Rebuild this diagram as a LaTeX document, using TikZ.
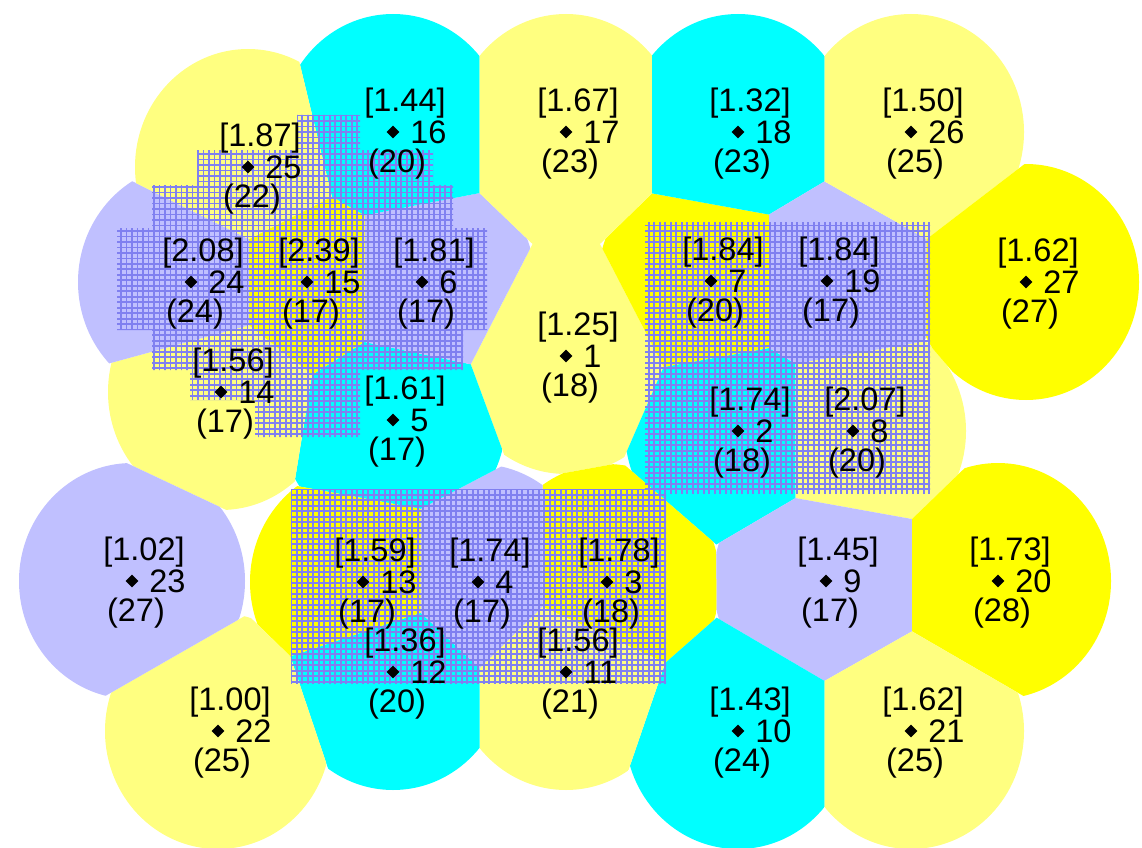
\documentclass[tikz,border=0pt]{standalone}
\usepackage{fontspec}
\setmainfont{Liberation Sans}
\usepackage{tikz}
\usetikzlibrary{calc,shapes.geometric}
\definecolor{paleyellow}{RGB}{255,255,128}
\definecolor{brightyellow}{RGB}{255,255,0}
\definecolor{aquacell}{RGB}{0,255,255}
\definecolor{lavendercell}{RGB}{192,192,255}
\definecolor{hatchblue}{RGB}{128,128,240}
\tikzset{
  sitedot/.style={diamond, fill=black, inner sep=0pt, minimum size=2.6mm},
  scorelabel/.style={inner sep=0pt, font=\fontsize{18.5}{20}\selectfont},
  idlabel/.style={inner sep=0pt, anchor=west, font=\fontsize{18.5}{20}\selectfont},
  countlabel/.style={inner sep=0pt, font=\fontsize{18.5}{20}\selectfont},
  hatchgrid/.style={draw=hatchblue, line width=0.38mm, step=1.1mm}
}

\begin{document}
\begin{tikzpicture}[x=0.02cm, y=-0.02cm]
  \useasboundingbox (0,0) rectangle (1142,848);
  \foreach \n/\px/\py in {1/566/356, 2/738/431, 3/607/582, 4/478/582, 5/393/420,
      6/422/282, 7/711/281, 8/853/431, 9/826/581, 10/738/731, 11/566/672,
      12/393/672, 13/363/582, 14/221/392, 15/307/282, 16/393/132, 17/566/132,
      18/738/132, 19/827/281, 20/998/581, 21/911/731, 22/218/731, 23/132/581,
      24/191/282, 25/248/167, 26/911/132, 27/1026/282}
    \coordinate (s\n) at (\px,\py);

  \foreach \n/\cellcol in {1/paleyellow, 2/aquacell, 3/brightyellow, 4/lavendercell,
      5/aquacell, 6/lavendercell, 7/brightyellow, 8/paleyellow, 9/lavendercell,
      10/aquacell, 11/paleyellow, 12/aquacell, 13/brightyellow, 14/paleyellow,
      15/brightyellow, 16/aquacell, 17/paleyellow, 18/aquacell, 19/lavendercell,
      20/brightyellow, 21/paleyellow, 22/paleyellow, 23/lavendercell,
      24/lavendercell, 25/paleyellow, 26/paleyellow, 27/brightyellow} {
    \begin{scope}
      \foreach \m in {1,...,27} {
        \ifnum\n=\m\relax\else
          \coordinate (mid) at ($(s\n)!0.5!(s\m)$);
          \clip ($(mid)!25cm!90:(s\n)$) -- ($(mid)!35cm!45:(s\n)$)
            -- ($(mid)!35cm!-45:(s\n)$) -- ($(mid)!25cm!-90:(s\n)$) -- cycle;
        \fi
      }
      \fill[\cellcol] (s\n) ellipse [x radius=113, y radius=118];
    \end{scope}
  }

  \begin{scope}
    \clip (297,115) -- (360,115) -- (360,150) -- (433,150) -- (433,185)
      -- (453,185) -- (453,228) -- (487,228) -- (487,330) -- (463,330)
      -- (463,370) -- (360,370) -- (360,437) -- (255,437) -- (255,400)
      -- (190,400) -- (190,370) -- (152,370) -- (152,330) -- (117,330)
      -- (117,228) -- (152,228) -- (152,185) -- (197,185) -- (197,150)
      -- (297,150) -- cycle;
    \draw[hatchgrid] (100,100) grid (500,450);
  \end{scope}
  \begin{scope}
    \clip (645,222) rectangle (930,493);
    \draw[hatchgrid] (630,210) grid (940,500);
  \end{scope}
  \begin{scope}
    \clip (291,489) rectangle (666,683);
    \draw[hatchgrid] (280,480) grid (680,690);
  \end{scope}

  \foreach \n/\score/\hits in {1/1.25/18, 2/1.74/18, 3/1.78/18, 4/1.74/17,
      5/1.61/17, 6/1.81/17, 7/1.84/20, 8/2.07/20, 9/1.45/17, 10/1.43/24,
      11/1.56/21, 12/1.36/20, 13/1.59/17, 14/1.56/17, 15/2.39/17, 16/1.44/20,
      17/1.67/23, 18/1.32/23, 19/1.84/17, 20/1.73/28, 21/1.62/25, 22/1.00/25,
      23/1.02/27, 24/2.08/24, 25/1.87/22, 26/1.50/25, 27/1.62/27} {
    \node[sitedot] (dot\n) at (s\n) {};
    \node[scorelabel] (score\n) at ($(s\n)+(12,-29)$) {[\score]};
    \node[idlabel] (id\n) at ($(s\n)+(17,0)$) {\n};
    \node[countlabel] (count\n) at ($(s\n)+(4,32)$) {(\hits)};
  }
\end{tikzpicture}
\end{document}
